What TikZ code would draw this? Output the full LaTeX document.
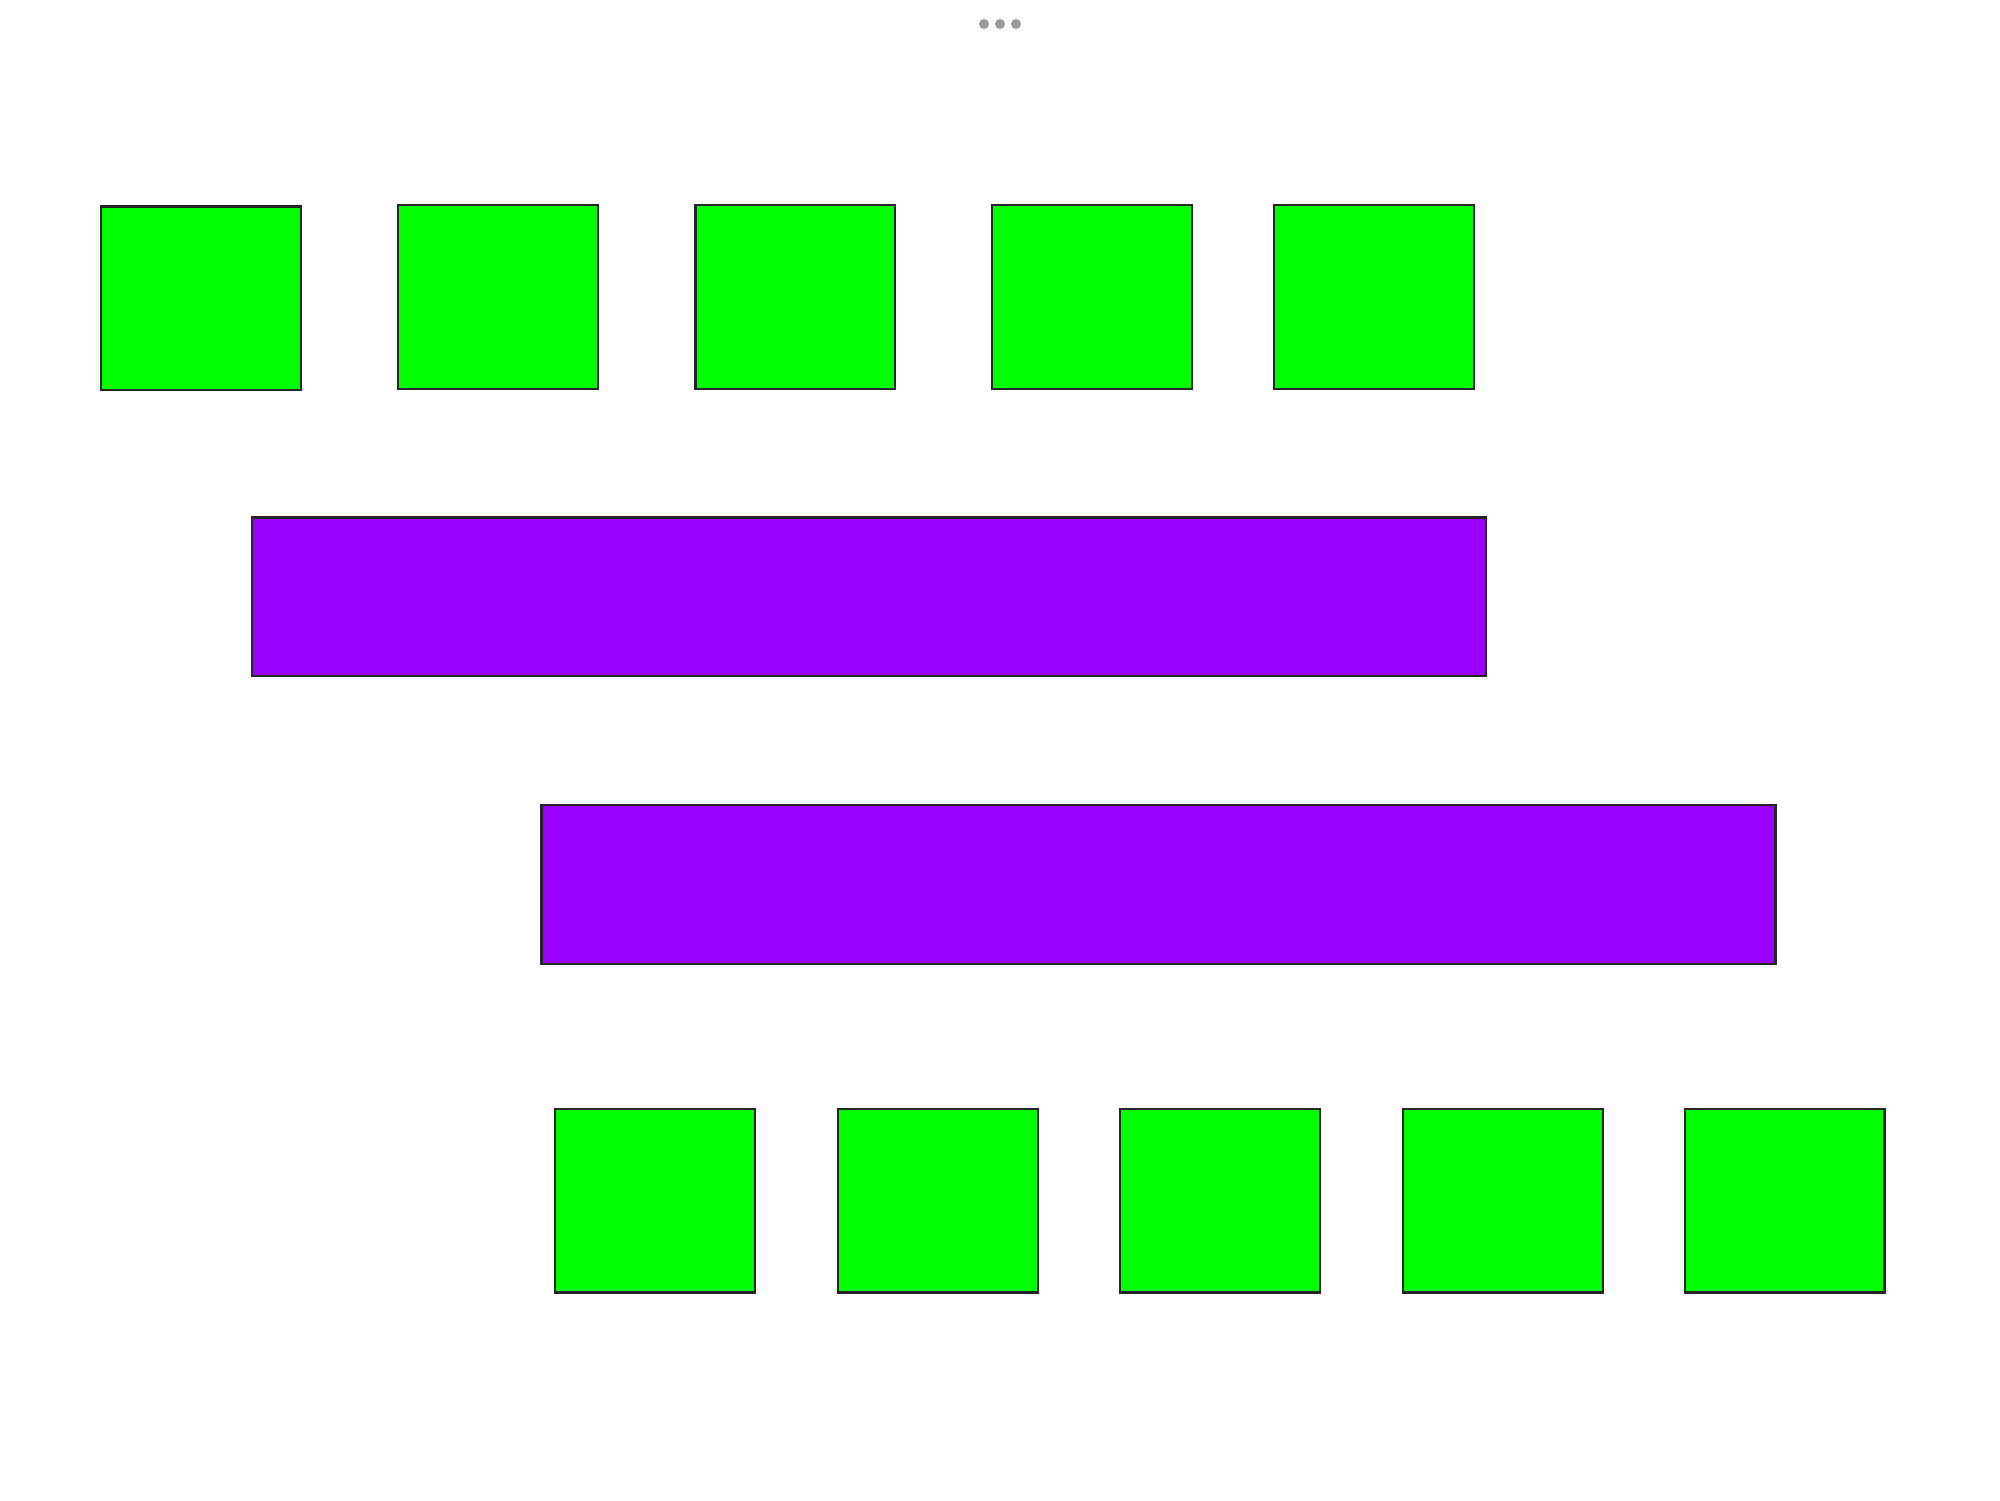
\documentclass[tikz,border=0pt]{standalone}
\begin{document}
\begin{tikzpicture}[x=0.5pt,y=-0.5pt]
  \definecolor{blockgreen}{HTML}{00FF00}
  \definecolor{blockpurple}{HTML}{9900FF}
  \definecolor{dotgray}{HTML}{999999}
  \tikzstyle{cell}=[rectangle,draw=black!85,line width=1.2pt,fill=blockgreen,minimum width=99.95pt,minimum height=91.75pt,inner sep=0pt]
  \tikzstyle{bar}=[rectangle,draw=black!85,line width=1.2pt,fill=blockpurple,minimum width=617pt,minimum height=79.35pt,inner sep=0pt]
  \tikzstyle{dot}=[circle,fill=dotgray,minimum size=5pt,inner sep=0pt]
  \useasboundingbox (0,0) rectangle (2000,1500);
  % menu dots
  \node[dot] (dotA) at (984,24) {};
  \node[dot] (dotB) at (1000,24) {};
  \node[dot] (dotC) at (1016,24) {};
  % upper row
  \node[cell] (up1) at (201.1,298.2) {};
  \node[cell] (up2) at (498.0,297) {};
  \node[cell] (up3) at (795.3,297) {};
  \node[cell] (up4) at (1092.1,297) {};
  \node[cell] (up5) at (1374.0,297) {};
  % bars
  \node[bar] (bar1) at (868.9,596.8) {};
  \node[bar] (bar2) at (1158.3,884.6) {};
  % lower row
  \node[cell] (low1) at (655.1,1200.6) {};
  \node[cell] (low2) at (938.0,1200.6) {};
  \node[cell] (low3) at (1219.9,1200.6) {};
  \node[cell] (low4) at (1502.8,1200.6) {};
  \node[cell] (low5) at (1784.7,1200.6) {};
\end{tikzpicture}
\end{document}
